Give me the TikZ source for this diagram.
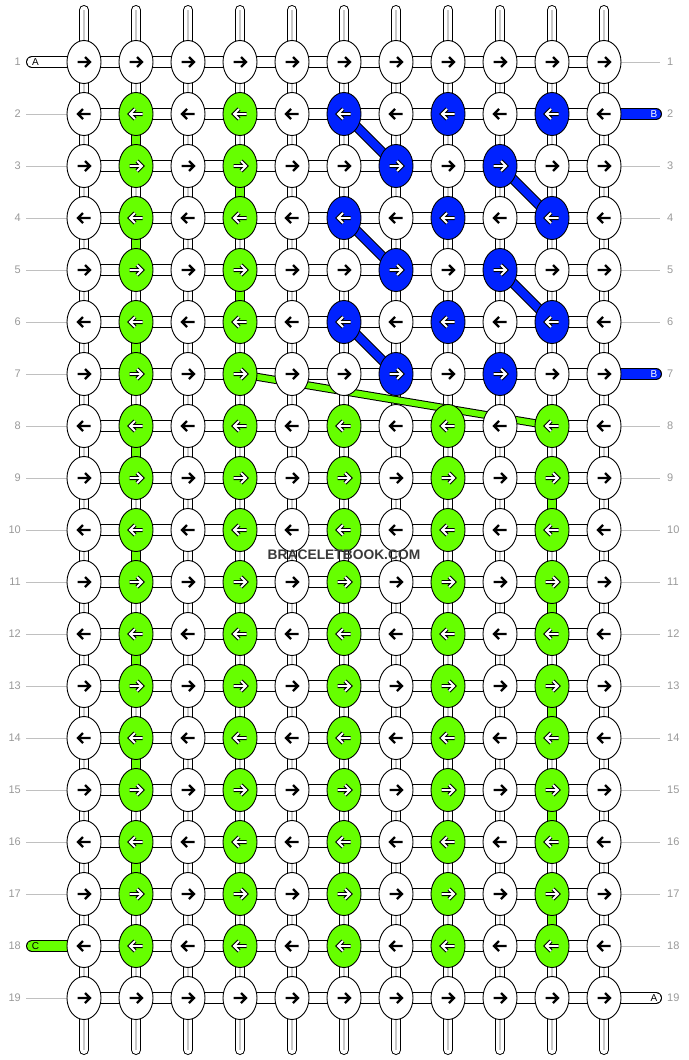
\documentclass[tikz,border=0pt]{standalone}
\usepackage{fontspec}
\setmainfont{Liberation Sans}
\usetikzlibrary{shapes.geometric}
\definecolor{kgreen}{HTML}{66FF00}
\definecolor{kblue}{HTML}{0022FF}
\definecolor{numgrey}{HTML}{999999}
\definecolor{rulegrey}{HTML}{C0C0C0}
\definecolor{stripgrey}{HTML}{C8C8C8}
\definecolor{wmgrey}{HTML}{3A3A3A}
\pgfdeclarelayer{bg}
\pgfdeclarelayer{mid}
\pgfsetlayers{bg,mid,main}
\begin{document}
\begin{tikzpicture}[x=1pt,y=-1pt,
 knot/.style={ellipse, draw=black, line width=0.9pt, minimum width=34pt, minimum height=43pt, inner sep=0pt, outer sep=0pt},
 vstrip/.style={draw=black, line width=1pt, double=white, double distance=8pt},
 vcore/.style={draw=stripgrey, line width=1.6pt},
 hstrip/.style={draw=black, line width=1pt, double=white, double distance=10pt},
 bstrip/.style={draw=black, line width=1pt, double=kblue, double distance=10pt},
 cstrip/.style={draw=black, line width=1pt, double=kgreen, double distance=10pt},
 gseg/.style={draw=black, line width=1pt, double=kgreen, double distance=8pt},
 bdiag/.style={draw=black, line width=1pt, double=kblue, double distance=8pt},
 gdiag/.style={draw=black, line width=1pt, double=kgreen, double distance=6pt},
 arrplain/.style={draw=black, line width=2.2pt, line join=miter},
 arrhalo/.style={draw=black, line width=4pt, line join=miter},
 arrcore/.style={draw=white, line width=1.8pt, line join=miter},
 rowno/.style={text=numgrey, font=\fontsize{11}{13}\selectfont, inner sep=0pt},
 rowline/.style={draw=rulegrey, line width=1pt},
 stripno/.style={font=\fontsize{10}{12}\selectfont, inner sep=0pt}
]
\useasboundingbox (0,0) rectangle (688,1060);

% knots with arrows
\foreach \row in {1,...,19}{
 \foreach \col in {1,...,11}{
  \pgfmathsetmacro\kx{84+52*(\col-1)}
  \pgfmathsetmacro\ky{62+52*(\row-1)}
  \def\kc{white}\def\halo{0}
  \ifnum\row>1 \ifnum\row<19
    \ifodd\col\relax\else
      \ifnum\col<5 \def\kc{kgreen}\def\halo{1}\else
        \ifnum\row>7 \def\kc{kgreen}\def\halo{1}\fi
      \fi
    \fi
  \fi\fi
  \ifnum\row>1 \ifnum\row<8 \ifnum\col>5 \ifnum\col<11
    \ifodd\numexpr\row+\col\relax\else \def\kc{kblue}\def\halo{1}\fi
  \fi\fi\fi\fi
  \node[knot, fill=\kc] (k-\row-\col) at (\kx,\ky) {};
  \ifodd\row\relax \def\sx{1}\else \def\sx{-1}\fi
  \ifnum\halo=1
   \draw[arrhalo, shift={(k-\row-\col.center)}, xscale=\sx] (-6.5,0) -- (6,0) (1,-5) -- (6,0) -- (1,5);
   \draw[arrcore, shift={(k-\row-\col.center)}, xscale=\sx] (-6.5,0) -- (6,0) (1,-5) -- (6,0) -- (1,5);
  \else
   \draw[arrplain, shift={(k-\row-\col.center)}, xscale=\sx] (-6.5,0) -- (6,0) (1,-5) -- (6,0) -- (1,5);
  \fi
 }
}

\begin{pgfonlayer}{bg}
 % horizontal strips
 \foreach \row in {1,...,19}{
  \foreach \col in {1,...,10}{
   \pgfmathtruncatemacro\nc{\col+1}
   \draw[hstrip] (k-\row-\col.center) -- (k-\row-\nc.center);
  }
 }
 % vertical strips
 \foreach \col in {1,...,11}{
  \foreach \row in {1,...,18}{
   \pgfmathtruncatemacro\nr{\row+1}
   \draw[vstrip] (k-\row-\col.center) -- (k-\nr-\col.center);
   \draw[vcore] (k-\row-\col.center) -- (k-\nr-\col.center);
  }
  \pgfmathsetmacro\kx{84+52*(\col-1)}
  \coordinate (top-\col) at (\kx,10);
  \coordinate (bot-\col) at (\kx,1050);
  \draw[vstrip, line cap=round] (top-\col) -- (k-1-\col.center);
  \draw[vcore] (top-\col) -- (k-1-\col.center);
  \draw[vstrip, line cap=round] (k-19-\col.center) -- (bot-\col);
  \draw[vcore] (k-19-\col.center) -- (bot-\col);
 }
 % green vertical segments
 \foreach \row/\col in {2/2,4/2,6/2,8/2,10/2,12/2,14/2,16/2,3/4,5/4,9/10,11/10,13/10,15/10,17/10}{
  \pgfmathtruncatemacro\nr{\row+1}
  \draw[gseg] (k-\row-\col.center) -- (k-\nr-\col.center);
 }
 % end strips
 \coordinate (endA1) at (32,62);
 \coordinate (endB2) at (656,114);
 \coordinate (endB7) at (656,374);
 \coordinate (endC18) at (32,946);
 \coordinate (endA19) at (656,998);
 \draw[hstrip, line cap=round] (endA1) -- (k-1-1.center);
 \draw[bstrip, line cap=round] (k-2-11.center) -- (endB2);
 \draw[bstrip, line cap=round] (k-7-11.center) -- (endB7);
 \draw[cstrip, line cap=round] (endC18) -- (k-18-1.center);
 \draw[hstrip, line cap=round] (k-19-11.center) -- (endA19);
 % row guide lines
 \foreach \row in {2,...,17,19}{
  \pgfmathsetmacro\ky{62+52*(\row-1)}
  \coordinate (lr-\row) at (26,\ky);
  \draw[rowline] (lr-\row) -- (k-\row-1.west);
 }
 \foreach \row in {1,3,4,5,6,8,9,10,11,12,13,14,15,16,17,18}{
  \pgfmathsetmacro\ky{62+52*(\row-1)}
  \coordinate (rr-\row) at (660,\ky);
  \draw[rowline] (k-\row-11.east) -- (rr-\row);
 }
\end{pgfonlayer}

\begin{pgfonlayer}{mid}
 \foreach \a/\b/\c/\d in {2/6/3/7, 4/6/5/7, 6/6/7/7, 3/9/4/10, 5/9/6/10}{
  \draw[bdiag] (k-\a-\b.center) -- (k-\c-\d.center);
 }
 \draw[gdiag] (k-7-4.center) -- (k-8-10.center);
\end{pgfonlayer}

% strip letters
\node[stripno] (tA1) at (35.5,62) {A};
\node[stripno, text=white] (tB2) at (654,114) {B};
\node[stripno, text=white] (tB7) at (654,374) {B};
\node[stripno] (tC18) at (35.5,946) {C};
\node[stripno] (tA19) at (654,998) {A};

% row numbers
\foreach \row in {1,...,19}{
 \pgfmathsetmacro\ky{62+52*(\row-1)}
 \node[rowno, anchor=east] (ln-\row) at (21,\ky) {\row};
 \node[rowno, anchor=west] (rn-\row) at (667,\ky) {\row};
}

% watermark
\node[font=\bfseries\fontsize{13.8}{16}\selectfont, text=wmgrey, inner sep=0pt] (wm) at (344,555) {BRACELETBOOK.COM};
\end{tikzpicture}
\end{document}
